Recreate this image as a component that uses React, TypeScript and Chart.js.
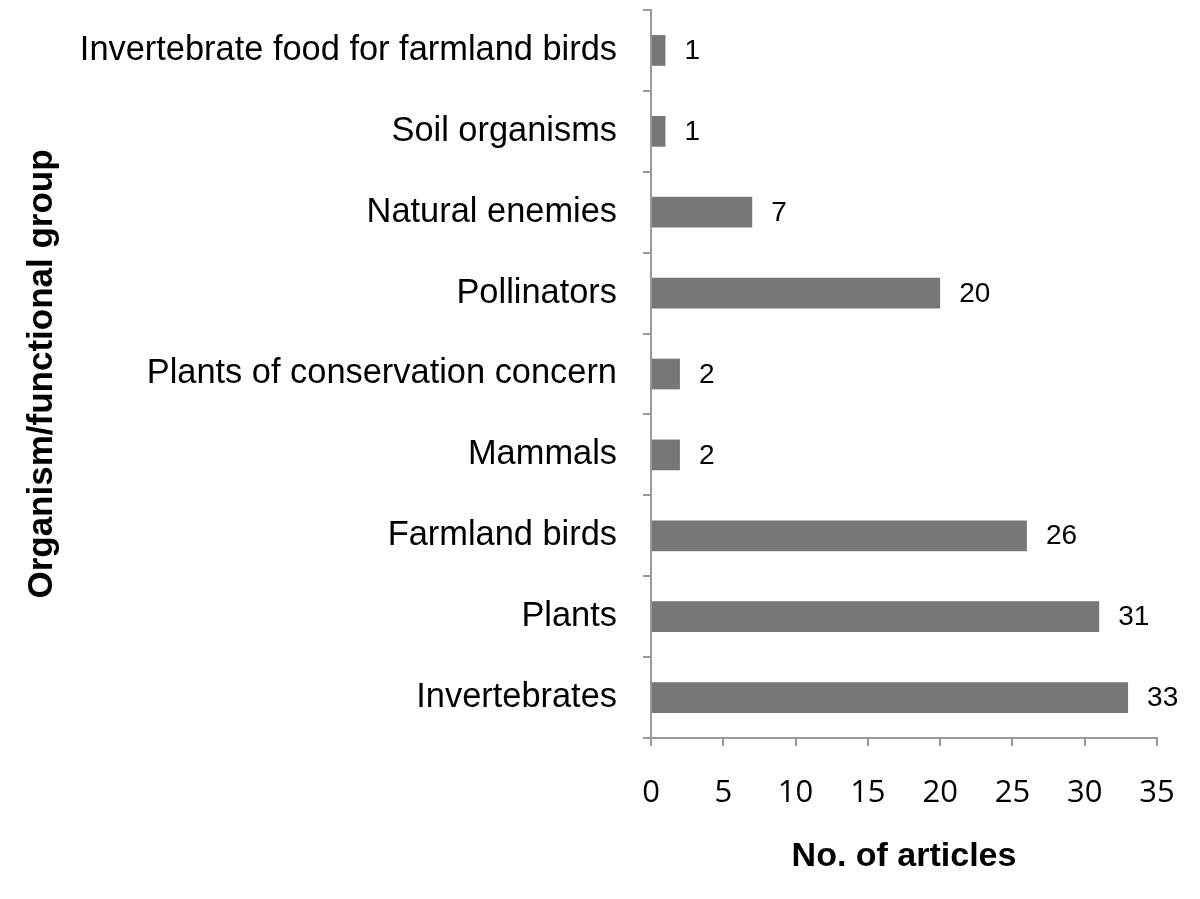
import React, { useEffect, useRef } from "react";
import { Chart, registerables } from "chart.js";

Chart.register(...registerables);

const categories = [
  "Invertebrate food for farmland birds",
  "Soil organisms",
  "Natural enemies",
  "Pollinators",
  "Plants of conservation concern",
  "Mammals",
  "Farmland birds",
  "Plants",
  "Invertebrates",
];

const articleCounts = [1, 1, 7, 20, 2, 2, 26, 31, 33];

const xTicks = [0, 5, 10, 15, 20, 25, 30, 35];

const xTitle = "No. of articles";
const yTitle = "Organism/functional group";

const valueLabels = {
  id: "valueLabels",
  afterDatasetsDraw(chart: any) {
    const ctx = chart.ctx;
    const meta = chart.getDatasetMeta(0);
    const data = chart.data.datasets[0].data;
    ctx.save();
    ctx.font = "28px 'Liberation Sans', Arial, sans-serif";
    ctx.fillStyle = "#000";
    ctx.textAlign = "left";
    ctx.textBaseline = "middle";
    meta.data.forEach((bar: any, i: number) => {
      ctx.fillText(String(data[i]), bar.x + 19, bar.y + 1);
    });
    ctx.restore();
  },
};

export default function App() {
  const canvasRef = useRef<HTMLCanvasElement | null>(null);

  useEffect(() => {
    if (!canvasRef.current) return;
    const chart = new Chart(canvasRef.current, {
      type: "bar",
      data: {
        labels: categories,
        datasets: [
          {
            data: articleCounts,
            backgroundColor: "#777777",
            borderWidth: 0,
            categoryPercentage: 1,
            barPercentage: 0.38,
          },
        ],
      },
      options: {
        indexAxis: "y",
        responsive: false,
        animation: false,
        layout: { padding: { top: 10, right: 43, left: 0, bottom: 0 } },
        plugins: {
          legend: { display: false },
          tooltip: { enabled: false },
        },
        scales: {
          x: {
            min: 0,
            max: 35,
            afterBuildTicks: (scale: any) => {
              scale.ticks = xTicks.map((v) => ({ value: v }));
            },
            afterFit: (scale: any) => {
              scale.height = 161;
              scale.paddingLeft = 0;
              scale.paddingRight = 0;
            },
            border: { color: "#999999", width: 2 },
            grid: {
              drawOnChartArea: false,
              drawTicks: true,
              tickLength: 8,
              color: "#999999",
              lineWidth: 2,
            },
            ticks: {
              color: "#000",
              padding: 29,
              font: { family: "'Open Sans', sans-serif", size: 31 },
            },
            title: {
              display: true,
              text: xTitle,
              color: "#000",
              padding: { top: 0, bottom: 22 },
              font: { family: "'Liberation Sans', Arial, sans-serif", size: 34, weight: "bold" },
            },
          },
          y: {
            afterFit: (scale: any) => {
              scale.width = 651;
              scale.paddingTop = 0;
              scale.paddingBottom = 0;
            },
            border: { color: "#999999", width: 2 },
            grid: {
              drawOnChartArea: false,
              drawTicks: true,
              tickLength: 8,
              color: "#999999",
              lineWidth: 2,
            },
            ticks: {
              color: "#000",
              padding: 26,
              font: { family: "'Liberation Sans', Arial, sans-serif", size: 34.4 },
            },
            title: {
              display: true,
              text: yTitle,
              color: "#000",
              padding: { top: 21, bottom: 0 },
              font: { family: "'Liberation Sans', Arial, sans-serif", size: 35, weight: "bold" },
            },
          },
        },
      },
      plugins: [valueLabels],
    } as any);
    return () => chart.destroy();
  }, []);

  return (
    <div style={{ position: "absolute", left: 0, top: 0, width: 1200, height: 899, background: "#fff" }}>
      <canvas ref={canvasRef} width={1200} height={899} style={{ display: "block" }} />
    </div>
  );
}
